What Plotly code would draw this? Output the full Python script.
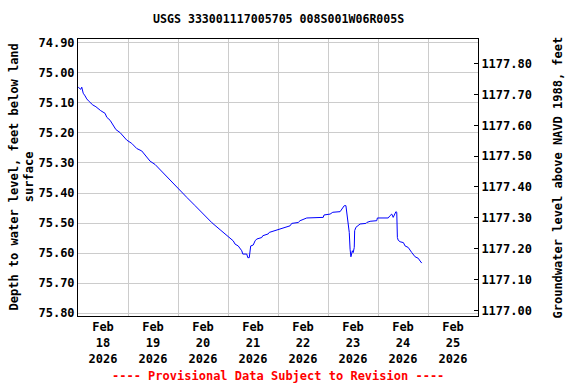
import pandas as pd
import plotly.graph_objects as go

# hours after 2026-02-18 00:00
hours = [0.1, 1.3, 1.8, 2.5, 3.4, 4.2, 5.4, 7.1, 8.6, 9.3, 10.9, 13.0, 13.8, 15.4, 16.7,
         18.2, 20.2, 21.7, 23.4, 25.8, 28.2, 30.6, 33.0, 34.6, 37.0, 38.5, 40.2, 42.6,
         43.8, 48.0, 52.3, 56.2, 60.0, 64.3, 68.2, 72.0, 74.5, 75.4, 76.9, 78.6, 79.1,
         81.0, 81.5, 82.2, 82.6, 82.9, 84.1, 85.0, 85.8, 88.2, 88.7, 91.3, 91.8, 94.6,
         97.0, 99.4, 101.8, 102.6, 105.7, 106.6, 109.8, 117.7, 118.1, 121.0, 122.3,
         125.8, 126.6, 127.8, 128.6, 129.0, 129.7, 130.2, 130.6, 131.0, 131.7, 132.1,
         132.6, 132.8, 133.4, 134.1, 135.4, 138.2, 138.6, 140.2, 143.4, 143.7, 148.9,
         149.8, 150.6, 151.3, 152.2, 152.6, 153.0, 153.3, 153.7, 154.6, 156.2, 157.0,
         158.5, 159.4, 160.2, 161.8, 163.3, 164.2, 165.0]
depth = [75.048, 75.055, 75.048, 75.068, 75.077, 75.087, 75.096, 75.107, 75.113, 75.118,
         75.126, 75.135, 75.148, 75.158, 75.174, 75.189, 75.199, 75.211, 75.224, 75.235,
         75.252, 75.260, 75.280, 75.294, 75.305, 75.316, 75.330, 75.347, 75.355, 75.385,
         75.415, 75.442, 75.469, 75.499, 75.522, 75.545, 75.559, 75.570, 75.576, 75.592,
         75.603, 75.603, 75.615, 75.615, 75.587, 75.576, 75.573, 75.559, 75.553, 75.548,
         75.542, 75.536, 75.531, 75.525, 75.520, 75.514, 75.509, 75.501, 75.498, 75.492,
         75.483, 75.481, 75.473, 75.470, 75.464, 75.462, 75.453, 75.442, 75.442, 75.470,
         75.498, 75.531, 75.587, 75.612, 75.592, 75.598, 75.581, 75.525, 75.514, 75.509,
         75.503, 75.501, 75.498, 75.494, 75.492, 75.483, 75.483, 75.475, 75.470, 75.481,
         75.470, 75.462, 75.464, 75.548, 75.557, 75.562, 75.565, 75.576, 75.581, 75.592,
         75.598, 75.612, 75.617, 75.626, 75.633]

left_ticks = [74.9, 75.0, 75.1, 75.2, 75.3, 75.4, 75.5, 75.6, 75.7, 75.8]
right_ticks = [1177.0, 1177.1, 1177.2, 1177.3, 1177.4, 1177.5, 1177.6, 1177.7, 1177.8]
day_labels = ["2026-02-18", "2026-02-19", "2026-02-20", "2026-02-21",
              "2026-02-22", "2026-02-23", "2026-02-24", "2026-02-25"]

start = pd.Timestamp("2026-02-18")
times = [start + pd.Timedelta(hours=h) for h in hours]
noon = [pd.Timestamp(d) + pd.Timedelta(hours=12) for d in day_labels]
noon_text = [pd.Timestamp(d).strftime("%b<br>%d<br>%Y") for d in day_labels]

F = "DejaVu Sans Mono"
font = dict(family=F, size=12, color="black", weight="bold")

fig = go.Figure()
fig.add_trace(go.Scatter(x=times, y=depth, mode="lines",
                         line=dict(color="#0000ff", width=1), showlegend=False))
# invisible anchor so the right-hand axis is drawn
fig.add_trace(go.Scatter(x=[noon[0]], y=[right_ticks[0]], yaxis="y2", mode="markers",
                         marker=dict(opacity=0), hoverinfo="skip", showlegend=False))

fig.update_layout(
    width=576, height=384,
    margin=dict(l=78, r=98, t=39, b=68),
    paper_bgcolor="white", plot_bgcolor="white",
    font=font,
    xaxis=dict(range=["2026-02-18", "2026-02-26"], tickvals=noon, ticktext=noon_text,
               showgrid=False, ticks="", showline=True, mirror=True, linecolor="black",
               linewidth=1, zeroline=False, tickfont=font,
               minor=dict(dtick=86400000, tick0="2026-02-18", showgrid=True,
                          gridcolor="#cccccc", gridwidth=1, ticks="")),
    yaxis=dict(range=[75.809, 74.8877], tickvals=left_ticks,
               ticktext=[f"{v:.2f}" for v in left_ticks], showgrid=True,
               gridcolor="#cccccc", gridwidth=1, ticks="", showline=True,
               linecolor="black", linewidth=1, zeroline=False, tickfont=font),
    yaxis2=dict(range=[1176.9815, 1177.880], overlaying="y", side="right",
                tickvals=right_ticks, ticktext=[f"{v:.2f}" for v in right_ticks],
                showgrid=False, ticks="inside", ticklen=4, tickcolor="black",
                showline=True, linecolor="black", linewidth=1, zeroline=False,
                tickfont=font),
    annotations=[
        dict(text="USGS 333001117005705 008S001W06R005S", x=0.5, y=1 + (39 - 19) / 277,
             xref="paper", yref="paper", xanchor="center", yanchor="middle",
             showarrow=False, font=dict(family=F, size=11.6, color="black", weight="bold")),
        dict(text="Depth to water level, feet below land<br>surface", textangle=-90,
             x=(21 - 78) / 400, y=0.5, xref="paper", yref="paper",
             xanchor="center", yanchor="middle", showarrow=False, font=font),
        dict(text="Groundwater level above NAVD 1988, feet", textangle=-90,
             x=(557 - 78) / 400, y=0.5, xref="paper", yref="paper",
             xanchor="center", yanchor="middle", showarrow=False, font=font),
        dict(text="---- Provisional Data Subject to Revision ----",
             x=0.5, y=-(376 - 316) / 277, xref="paper", yref="paper",
             xanchor="center", yanchor="middle", showarrow=False,
             font=dict(family=F, size=12, color="red", weight="bold")),
    ],
)
fig.write_html("out.html", config={"displayModeBar": False},
               post_script="document.body.style.margin='0';")
